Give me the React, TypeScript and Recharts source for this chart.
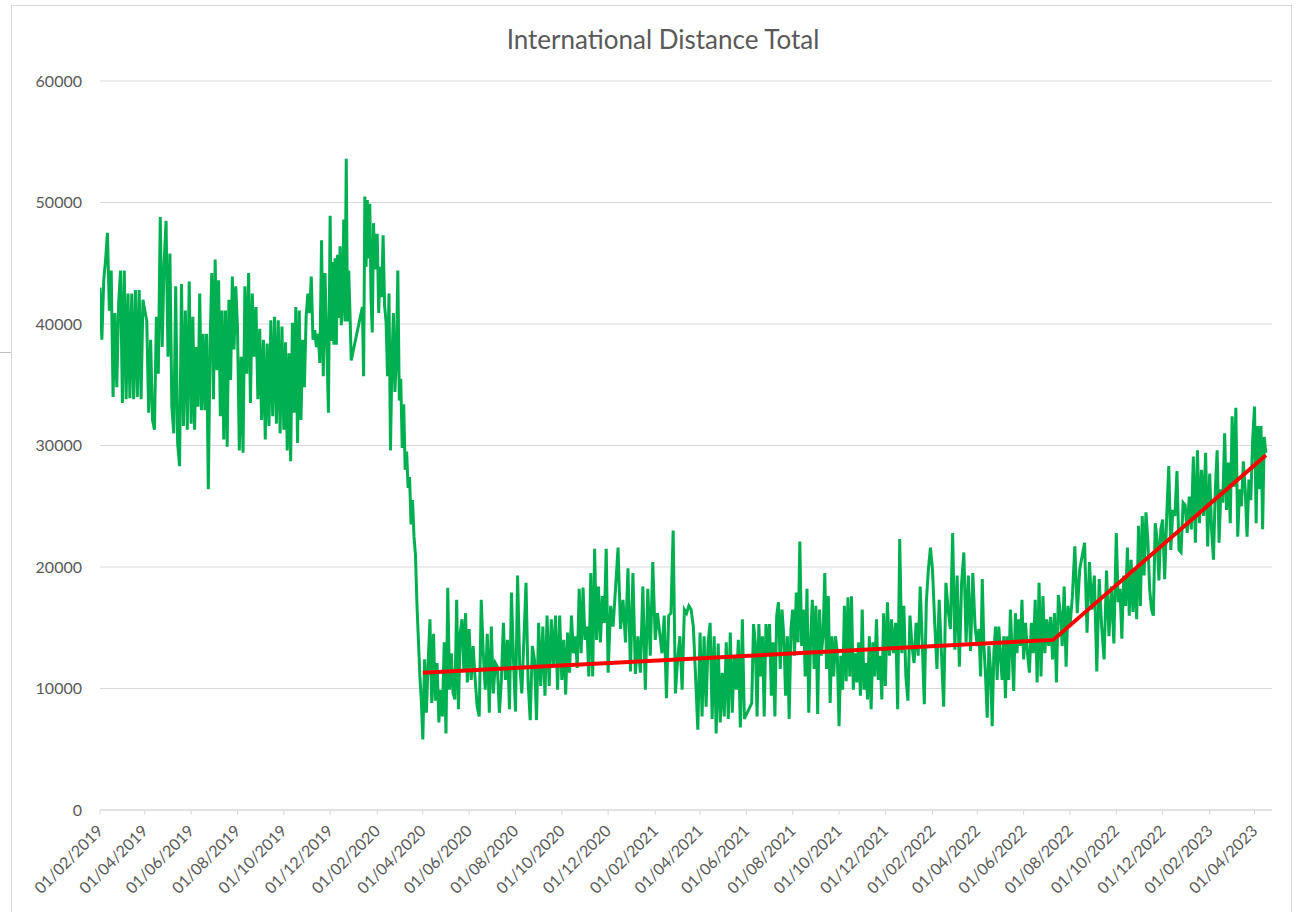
import { LineChart, Line, XAxis, YAxis, CartesianGrid } from "recharts";

// tick labels (every 2 months) - also the edges of each block of readings
const tickLabels = [
  "01/02/2019", "01/04/2019", "01/06/2019", "01/08/2019", "01/10/2019", "01/12/2019",
  "01/02/2020", "01/04/2020", "01/06/2020", "01/08/2020", "01/10/2020", "01/12/2020",
  "01/02/2021", "01/04/2021", "01/06/2021", "01/08/2021", "01/10/2021", "01/12/2021",
  "01/02/2022", "01/04/2022", "01/06/2022", "01/08/2022", "01/10/2022", "01/12/2022",
  "01/02/2023", "01/04/2023",
];
const lastDataDate = "18/04/2023";
const axisEndDate = "24/04/2023";

const yTicks = [0, 10000, 20000, 30000, 40000, 50000, 60000];

// readings, one sub-array per 2-month block (null = missing days)
const green2019: (number | null)[][] = [
  [43000, 38700, 43600, 45300, 47500, 41100, 44400, 34000, 40900, 34800, 41800, 44400, 33500, 44400, 33800, 42500, 33900, 42500, 33800, 42800, 34000, 42800, 33800, 42000],
  [41100, 40300, 32700, 38700, 32100, 31300, 40600, 35900, 48800, 38100, 45000, 48500, 37300, 45800, 33200, 31000, 43100, 30200, 28300, 43300, 31600, 41100, 31300, 43500],
  [31800, 40600, 31300, 38100, 33200, 42500, 32900, 39200, 32900, 39200, 26400, 38100, 44200, 33800, 45300, 36200, 43600, 32400, 41100, 30500, 41100, 29900, 42000, 35400, 43900, 37900, 43100],
  [39800, 29600, 37300, 29400, 43100, 35900, 44200, 33500, 42500, 37300, 41400, 33800, 39600, 32100, 38700, 30500, 38400, 31600, 40300, 32400, 40600, 31800, 40300, 31000, 39800],
  [31300, 38500, 29600, 37600, 28700, 40100, 32700, 41400, 30200, 41100, 32100, 38700, 34800, 40600, 42500, 40900, 43900, 38700, 39500, 38100, 39200, 36800, 46900, 35700, 44200, 38700, 32700],
  [48900, 38600, 45100, 38300, 45400, 38300, 45700, 40500, 46400, 39900, 42200, 48600, 40200, 53600, 40200, 44400, 40900, 37000, null, null, null, null, null, null, null, null, 41400, 35700, 50500, 44700, 50200, 45400, 49900, 42000, 39300, 48300, 44500, 47300],
];

const green2020: (number | null)[][] = [
  [47300, 40900, 44700, 42200, 47300, 41500, 40200, 35700, 42500, 29600, 37000, 40900, 34400, 37000, 44400, 33700, 35500, 29800, 33400, 28000, 29500, 26500, 27400, 23500, 25500, 22500, 21000, 17000, 14000, 11000, 9000],
  [5800, 12400, 8000, 12100, 15700, 8800, 14500, 9000, 12100, 7200, 9900, 7700, 13800, 6300, 18300, 9900, 12900, 9600, 9100, 17300, 8300, 14600, 15700, 11600, 16200, 10500],
  [14900, 10700, 13500, 10700, 8500, 7700, 17300, 12900, 9900, 14500, 8000, 15100, 9600, 12100, 11800, 8000, 10700, 15400, 10700, 14000, 8300, 17900, 12400],
  [8100, 19300, 12000, 9600, 14000, 18700, 10500, 7400, 13500, 12400, 7400, 15400, 10200, 15100, 9400, 16000, 10200, 15700, 11800, 16000, 9900, 16000],
  [10700, 14000, 9500, 14600, 11300, 16000, 12900, 14300, 11700, 18200, 12900, 18300, 14000, 15100, 11000, 19500, 11000, 21500, 14000, 18400, 13800, 17600, 15400, 21500],
  [11300, 16800, 15100, 18300, 21600, 14900, 17300, 13800, 19900, 11400, 19500, 11200, 14300, 11300, 18400, 9900, 18200, 12700, 20400],
];

const green2021: (number | null)[][] = [
  [14000, 16200, 14600, 12900, 16000, 9200, 16000, 16200, 23000, 9600, 12400, 14300, 9900, 16500, 16200, 16800, 16500, 15100, 11000, 6600],
  [14600, 7700, 14300, 8500, 13800, 15400, 7500, 14300, 6300, 13700, 7200, 11300, 7700, 13800, 7500, 14600, 8000, 12700, 9900, 14000, 6800, 15700, 7500],
  [null, null, null, 8800, 15300, 13800, 7700, 15300, 11000, 14300, 7700, 15300, 12700, 15300, 9400, 13800, 7700, 16000, 17100, 11600, 16500, 14300, 9400, 14300, 7500, 14900],
  [16500, 12700, 17900, 13800, 22100, 13500, 16500, 11000, 18200, 8000, 13800, 17300, 11600, 16800, 7900, 16500, 12700, 14300, 19500, 11600, 17600, 8800, 14300, 11000, 14300, 12900],
  [6900, 12700, 9900, 16800, 10600, 17500, 11000, 17600, 9900, 12900, 10500, 13800, 9400, 16500, 9900, 12100, 9100, 14300, 8300, 13800, 11000, 15700, 10700, 12700, 9100, 16200],
  [10200, 17100, 12700, 15700, 12900, 15400, 8300, 22300, 12900, 16800, 11000, 9000, 16000, 13500, 12100, 15400, 12700, 18400, 13800, 8700, 17100, 19800, 21600],
];

const green2022: (number | null)[][] = [
  [19800, 15400, 11600, 17300, 12900, 8500, 18700, 16500, 14900, 22800, 13200, 19300, 11800, 18700, 21200, 13800, 19300, 13100, 19500, 15100],
  [13500, 14900, 11000, 19000, 13500, 11000, 7600, 13500, 11600, 6900, 12900, 15100, 10700, 15100, 12700, 10700, 14300, 9200, 14300, 10700, 16500, 13200, 9800, 16200, 12900, 15700, 13500, 17300],
  [12400, 15400, 12900, 11300, 15400, 12900, 17300, 10500, 18700, 11000, 17600, 12900, 15700, 13500, 15900, 12400, 16200, 10500, 17700, 16200, 13500, 18400, 11800, 16800],
  [15100, 17600, 21700, 16200, 19800, 20900, 22000, 14600, 20400, 16500, 19300, 11400, 19000, 15100, 12400, 19700, 14300, 18400, 13700],
  [22800, 17100, 18200, 14100, 19300, 16800, 21600, 16000, 20600, 16300, 19800, 15700, 23400, 16800, 24200, 19300, 24500, 22300, 18200, 16500, 16000, 23600, 22300, 18900, 23100],
  [23900, 19000, 24200, 28300, 21400, 24700, 24200, 27900, 21400, 21200, 25300, 25100, 22800, 25800, 23100, 29100, 22000, 29600, 23600, 28000, 24200, 29400, 21700],
];

const green2023: (number | null)[][] = [
  [27700, 23100, 20600, 26400, 29600, 22000, 26400, 25300, 31000, 24700, 28600, 23600, 32400, 26600, 33100, 22500, 26400, 25000, 28700, 26400, 22500, 27200, 25500, 30500],
  [33200, 23600, 31600, 26400, 31600, 23100, 30700, 29400],
];

// red trend line
const trendDates = ["01/04/2020", "10/07/2022", "16/04/2023"];
const trendValues = [11300, 14000, 29200];

const dayOf = (s: string) => {
  const [d, m, y] = s.split("/").map(Number);
  return (Date.UTC(y, m - 1, d) - Date.UTC(2019, 1, 1)) / 86400000;
};

const edges = [...tickLabels, lastDataDate].map(dayOf);
const blocks = [...green2019, ...green2020, ...green2021, ...green2022, ...green2023];

const greenData = blocks.flatMap((vals, b) => {
  const s = edges[b];
  const e = edges[b + 1];
  return vals.map((v, j) => ({ day: s + (j * (e - s)) / vals.length, value: v }));
});

const trendData = trendDates.map((d, i) => ({ day: dayOf(d), value: trendValues[i] }));

const tickDays = tickLabels.map(dayOf);
const labelByDay: Record<number, string> = {};
tickLabels.forEach((l) => {
  labelByDay[dayOf(l)] = l;
});

const XTick = (props: any) => {
  const { x, y, payload } = props;
  const ax = x + 4;
  const ay = y + 15;
  return (
    <text
      x={ax}
      y={ay}
      transform={`rotate(-45 ${ax} ${ay})`}
      textAnchor="end"
      fill="#595959"
      fontSize={16}
      fontFamily="Lato"
    >
      {labelByDay[payload.value]}
    </text>
  );
};

export default function App() {
  return (
    <div
      style={{
        position: "absolute",
        left: 0,
        top: 0,
        width: 1296,
        height: 912,
        background: "#fff",
        fontFamily: "Lato",
        overflow: "hidden",
      }}
    >
      <div
        style={{
          position: "absolute",
          left: 11,
          top: 5,
          width: 1279,
          height: 920,
          border: "1px solid #d9d9d9",
        }}
      />
      <div
        style={{
          position: "absolute",
          left: 0,
          top: 352,
          width: 11,
          height: 1,
          background: "#bfbfbf",
        }}
      />
      <div
        style={{
          position: "absolute",
          left: 0,
          width: 1326,
          top: 24,
          textAlign: "center",
          fontSize: 26,
          lineHeight: "30px",
          color: "#595959",
        }}
      >
        International Distance Total
      </div>

      <div style={{ position: "absolute", left: 0, top: 0 }}>
        <LineChart
          width={1296}
          height={912}
          margin={{ top: 81, right: 24, bottom: 12, left: 0 }}
        >
          <CartesianGrid vertical={false} stroke="#d9d9d9" />

          <XAxis
            type="number"
            dataKey="day"
            domain={[0, dayOf(axisEndDate)]}
            allowDataOverflow
            ticks={tickDays}
            interval={0}
            height={90}
            tickSize={5}
            stroke="#d9d9d9"
            tick={<XTick />}
          />

          <YAxis
            domain={[0, 60000]}
            ticks={yTicks}
            width={100}
            axisLine={false}
            tickLine={false}
            tickMargin={12}
            tick={{ fill: "#595959", fontSize: 16, fontFamily: "Lato" }}
          />

          <Line
            data={greenData}
            dataKey="value"
            type="linear"
            stroke="#00B050"
            strokeWidth={3}
            dot={false}
            connectNulls
            isAnimationActive={false}
          />

          <Line
            data={trendData}
            dataKey="value"
            type="linear"
            stroke="#FF0000"
            strokeWidth={4}
            dot={false}
            isAnimationActive={false}
          />
        </LineChart>
      </div>
    </div>
  );
}
